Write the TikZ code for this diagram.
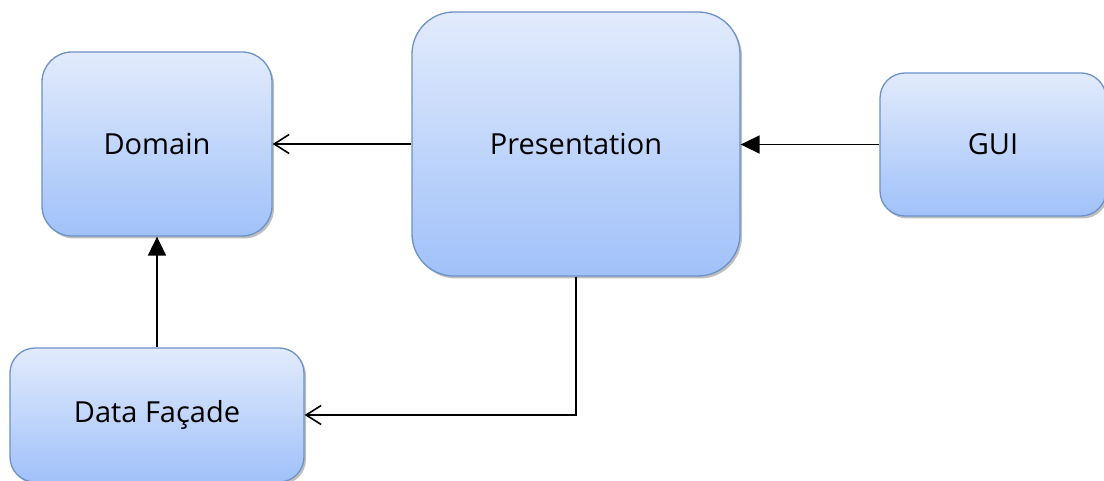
\documentclass[tikz,border=0pt]{standalone}
\usepackage{fontspec}
\setmainfont{Open Sans}
\usetikzlibrary{arrows.meta,shadows}
\definecolor{boxtop}{RGB}{226,235,252}
\definecolor{boxbot}{RGB}{160,193,249}
\definecolor{boxline}{RGB}{108,145,200}
\tikzset{
  blk/.style={draw=boxline, line width=1.3pt, rectangle, top color=boxtop, bottom color=boxbot,
    drop shadow={shadow xshift=2pt, shadow yshift=-2.5pt, opacity=0.25, fill=black},
    font=\fontsize{29}{34}\selectfont, text=black, inner sep=0pt},
  conn/.style={line width=1.8pt, black},
  openhead/.style={-{Straight Barb[length=15pt,width=19pt,line width=1.6pt]}},
  fullhead/.style={-{Triangle[length=19pt,width=18pt]}}
}
\begin{document}
\begin{tikzpicture}[x=1pt,y=-1pt]
\useasboundingbox (0,0) rectangle (1104,481);
\clip (0,0) rectangle (1104,481);
\node[blk, minimum width=230pt, minimum height=184pt, rounded corners=30pt] (dom) at (157,144) {Domain};
\node[blk, minimum width=328pt, minimum height=264pt, rounded corners=42pt] (pres) at (576,144) {Presentation};
\node[blk, minimum width=226pt, minimum height=143pt, rounded corners=25pt] (gui) at (993,144.5) {GUI};
\node[blk, minimum width=294pt, minimum height=134pt, rounded corners=25pt] (df) at (157,415) {Data Façade};
\draw[conn, openhead] (pres.west) -- (dom.east);
\draw[conn, fullhead] (gui.west) -- (gui.west -| pres.east);
\draw[conn, fullhead] (df.north) -- (dom.south);
\draw[conn, openhead] (pres.south) |- (df.east);
\end{tikzpicture}
\end{document}
